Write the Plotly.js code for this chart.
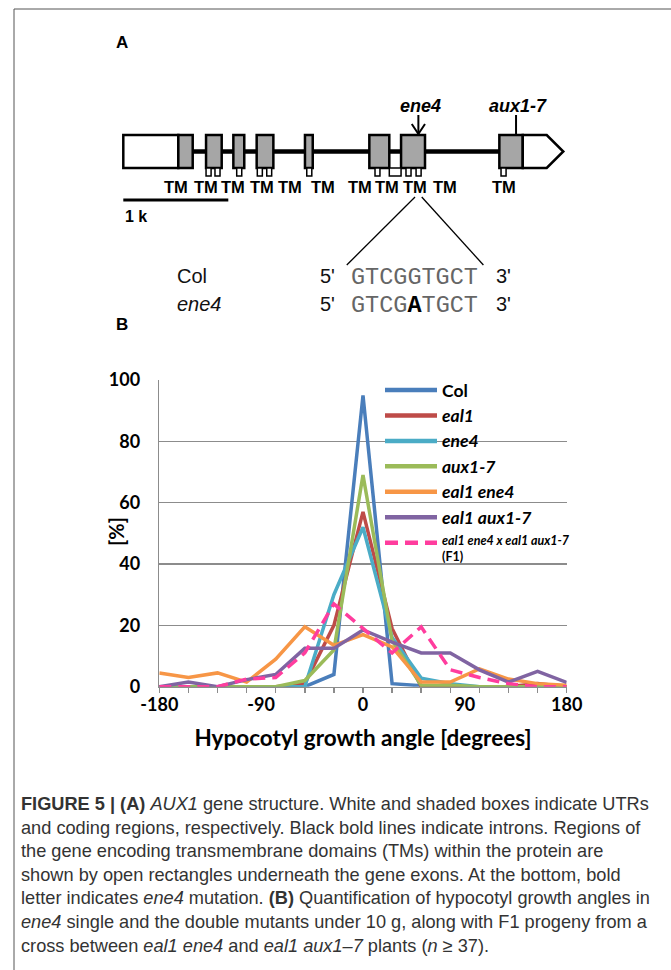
<!DOCTYPE html>
<html><head><meta charset="utf-8">
<script src="https://cdn.plot.ly/plotly-3.0.1.min.js"></script>
<style>html,body{margin:0;padding:0;background:#fff}#chart{width:671px;height:970px}</style>
</head><body><div id="chart"></div>
<script>
// ===== Panel B data: hypocotyl growth angle distribution (%) =====
const angleBins = [-180, -154.29, -128.57, -102.86, -77.14, -51.43, -25.71, 0, 25.71, 51.43, 77.14, 102.86, 128.57, 154.29, 180];
const xTickVals = [-180, -90, 0, 90, 180];
const xTickText = ['-180', '-90', '0', '90', '180'];
const colVals      = [0, 0, 0, 0, 0, 0, 4, 95, 1, 0.3, 0, 0, 0, 0, 0];
const eal1Vals     = [0, 0, 0, 0, 0, 1, 20, 57, 19, 0, 0, 0, 0, 1, 0];
const ene4Vals     = [0, 0, 0, 0, 0, 0, 30, 52, 16, 2.8, 1, 0, 0, 0, 0];
const aux17Vals    = [0, 0, 0, 0, 0, 2, 12, 69, 15, 0.5, 0.5, 0, 0, 0, 0];
const eal1ene4Vals = [4.5, 3, 4.5, 1.5, 9, 19.5, 13.5, 17, 13, 1.5, 1.5, 5.8, 2.5, 1, 0.5];
const eal1aux17Vals= [0, 1.5, 0, 2.3, 4, 12.5, 12.5, 18.5, 14.5, 11, 11, 5.5, 1.5, 5, 1.4];
const f1Vals       = [0, 0, 0, 2.5, 3, 11, 27, 19, 11, 19.5, 5.5, 3, 1, 0, 0];
const seriesVals   = [colVals, eal1Vals, ene4Vals, aux17Vals, eal1ene4Vals, eal1aux17Vals, f1Vals];
const seriesNames  = ['Col', 'eal1', 'ene4', 'aux1-7', 'eal1 ene4', 'eal1 aux1-7', 'eal1 ene4 x eal1 aux1-7 (F1)'];
const seriesLabels = ['<b>Col</b>', '<b><i>eal1</i></b>', '<b><i>ene4</i></b>', '<b><i>aux1-7</i></b>', '<b><i>eal1 ene4</i></b>', '<b><i>eal1 aux1-7</i></b>', '<b><i>eal1 ene4 x eal1 aux1-7</i></b><br><b>(F1)</b>'];
const seriesColors = ['#4a7ebb', '#be4b48', '#4bacc6', '#9bbb59', '#f79646', '#8064a2', '#ff3d9e'];

// ===== Panel A data: AUX1 gene structure (bp from transcription start) =====
const utr5 = [0, 524];
const exonStarts = [524, 788, 1048, 1270, 1730, 2343, 2645, 3581];
const exonEnds   = [661, 937, 1152, 1429, 1804, 2533, 2873, 3804];
const utr3 = [3804, 4032, 4190];
const tmStarts = [788, 873, 1080, 1276, 1366, 1747, 2397, 2533, 2692, 2788, 3597];
const tmEnds   = [836, 921, 1128, 1324, 1413, 1795, 2444, 2645, 2740, 2836, 3645];
const tmLabelPos = [502, 788, 1048, 1324, 1588, 1899, 2257, 2514, 2778, 3063, 3629];
const scaleBar = [0, 1000];
const ene4Site = 2810;
const aux17Site = 3740;
const colSeq = 'GTCGGTGCT';
const ene4Seq = 'GTCG<b><span style="fill:#000">A</span></b>TGCT';

const W = 671, H = 970;
const px = v => v / W;
const py = v => 1 - v / H;

// ---- traces ----
const traces = seriesVals.map((vals, i) => ({
  type: 'scatter', mode: 'lines', x: angleBins, y: vals, name: seriesNames[i],
  xaxis: 'x', yaxis: 'y', showlegend: false, hoverinfo: 'skip',
  line: {color: seriesColors[i], width: 3.5, dash: i === 6 ? '12px,7px' : 'solid'}
}));
traces.push({type: 'scatter', x: [], y: [], xaxis: 'x3', yaxis: 'y', showlegend: false, hoverinfo: 'skip'});
traces.push({type: 'scatter', x: [], y: [], xaxis: 'x2', yaxis: 'y2', showlegend: false, hoverinfo: 'skip'});

const shapes = [];
const annotations = [];

// ---- figure border ----
shapes.push({type: 'line', xref: 'paper', yref: 'paper', x0: px(14), x1: px(14), y0: py(9), y1: py(970), line: {color: '#555', width: 1}});
shapes.push({type: 'line', xref: 'paper', yref: 'paper', x0: px(14), x1: px(671), y0: py(9), y1: py(9), line: {color: '#555', width: 1}});

// ---- Panel A gene diagram ----
const G = {xref: 'x2', yref: 'y2'};
const yTop = 135, yBot = 168, yMid = 151.5;
shapes.push(Object.assign({type: 'line', x0: exonEnds[0], x1: exonStarts[exonStarts.length - 1], y0: yMid, y1: yMid, line: {color: '#000', width: 4.5}}, G));
shapes.push(Object.assign({type: 'rect', x0: utr5[0], x1: utr5[1], y0: yTop, y1: yBot, fillcolor: '#fff', line: {color: '#000', width: 2.5}}, G));
exonStarts.forEach((s, i) => {
  shapes.push(Object.assign({type: 'rect', x0: s, x1: exonEnds[i], y0: yTop, y1: yBot, fillcolor: '#a6a6a6', line: {color: '#000', width: 2.5}}, G));
});
shapes.push(Object.assign({type: 'path', path: `M ${utr3[0]},${yTop} L ${utr3[1]},${yTop} L ${utr3[2]},${yMid} L ${utr3[1]},${yBot} L ${utr3[0]},${yBot} Z`, fillcolor: '#fff', line: {color: '#000', width: 2.5}}, G));
tmStarts.forEach((s, i) => {
  shapes.push(Object.assign({type: 'rect', x0: s, x1: tmEnds[i], y0: yBot, y1: 176, fillcolor: '#fff', line: {color: '#000', width: 1.5}}, G));
});
tmLabelPos.forEach(p => {
  annotations.push(Object.assign({x: p, y: 187, text: '<b>TM</b>', showarrow: false, xanchor: 'center', yanchor: 'middle', font: {family: 'Liberation Sans, Arial', size: 16.5, color: '#000'}}, G));
});
// scale bar
shapes.push(Object.assign({type: 'line', x0: scaleBar[0], x1: scaleBar[1], y0: 200, y1: 200, line: {color: '#000', width: 3}}, G));
annotations.push({xref: 'paper', yref: 'paper', x: px(123), y: py(217), text: '<b>1 k</b>', showarrow: false, xanchor: 'left', yanchor: 'middle', font: {family: 'Liberation Sans, Arial', size: 16, color: '#000'}});
// mutation markers
shapes.push(Object.assign({type: 'line', x0: ene4Site, x1: ene4Site, y0: 115, y1: 134, line: {color: '#000', width: 2}}, G));
shapes.push(Object.assign({type: 'path', path: `M ${ene4Site - 63},124 L ${ene4Site},134 L ${ene4Site + 63},124`, line: {color: '#000', width: 2}}, G));
shapes.push(Object.assign({type: 'line', x0: aux17Site, x1: aux17Site, y0: 115, y1: 135, line: {color: '#000', width: 2}}, G));
annotations.push(Object.assign({x: ene4Site + 16, y: 106, text: '<b><i>ene4</i></b>', showarrow: false, xanchor: 'center', yanchor: 'middle', font: {family: 'Liberation Sans, Arial', size: 18, color: '#000'}}, G));
annotations.push(Object.assign({x: aux17Site + 19, y: 106, text: '<b><i>aux1-7</i></b>', showarrow: false, xanchor: 'center', yanchor: 'middle', font: {family: 'Liberation Sans, Arial', size: 18, color: '#000'}}, G));
// zoom lines to sequence
shapes.push(Object.assign({type: 'line', x0: 2778, x1: 2128, y0: 197, y1: 265, line: {color: '#000', width: 1.3}}, G));
shapes.push(Object.assign({type: 'line', x0: 2842, x1: 3429, y0: 197, y1: 265, line: {color: '#000', width: 1.3}}, G));
// sequences
const seqRows = [{name: 'Col', seq: colSeq, y: 276}, {name: '<i>ene4</i>', seq: ene4Seq, y: 304}];
seqRows.forEach(r => {
  annotations.push({xref: 'paper', yref: 'paper', x: px(175), y: py(r.y), text: r.name, showarrow: false, xanchor: 'left', yanchor: 'middle', font: {family: 'Liberation Sans, Arial', size: 20, color: '#111'}});
  annotations.push({xref: 'paper', yref: 'paper', x: px(318), y: py(r.y), text: "5'", showarrow: false, xanchor: 'left', yanchor: 'middle', font: {family: 'Liberation Sans, Arial', size: 20, color: '#111'}});
  annotations.push({xref: 'paper', yref: 'paper', x: px(349), y: py(r.y + 1), text: r.seq, showarrow: false, xanchor: 'left', yanchor: 'middle', font: {family: 'Liberation Mono, Courier New, monospace', size: 23.5, color: '#666'}});
  annotations.push({xref: 'paper', yref: 'paper', x: px(494), y: py(r.y), text: "3'", showarrow: false, xanchor: 'left', yanchor: 'middle', font: {family: 'Liberation Sans, Arial', size: 20, color: '#111'}});
});
// panel letters
annotations.push({xref: 'paper', yref: 'paper', x: px(122), y: py(43), text: '<b>A</b>', showarrow: false, xanchor: 'center', yanchor: 'middle', font: {family: 'Liberation Sans, Arial', size: 17, color: '#000'}});
annotations.push({xref: 'paper', yref: 'paper', x: px(122), y: py(325), text: '<b>B</b>', showarrow: false, xanchor: 'center', yanchor: 'middle', font: {family: 'Liberation Sans, Arial', size: 17, color: '#000'}});

// ---- Panel B: y title ----
annotations.push({xref: 'paper', yref: 'paper', x: px(116), y: py(532), text: '<b>[%]</b>', textangle: -90, showarrow: false, xanchor: 'center', yanchor: 'middle', font: {family: 'Lato, Open Sans, sans-serif', size: 20, color: '#000'}});

// ---- Panel B: custom legend ----
seriesLabels.forEach((lab, i) => {
  const yy = 390 + i * 25.45;
  shapes.push({type: 'line', xref: 'paper', yref: 'paper', x0: px(385), x1: px(437), y0: py(yy), y1: py(yy), line: {color: seriesColors[i], width: 4.5, dash: i === 6 ? '13px,7px' : 'solid'}});
  if (i < 6) {
    annotations.push({xref: 'paper', yref: 'paper', x: px(440), y: py(yy), text: lab, showarrow: false, xanchor: 'left', yanchor: 'middle', font: {family: 'Lato, Open Sans, sans-serif', size: 17.5, color: '#000'}});
  } else {
    annotations.push({xref: 'paper', yref: 'paper', x: px(440), y: py(yy + 6), text: lab, showarrow: false, xanchor: 'left', yanchor: 'middle', align: 'left', font: {family: 'Lato, Open Sans, sans-serif', size: 12.5, color: '#000'}});
  }
});

// ---- caption ----
const captionLines = [
  '<b>FIGURE 5 | (A)</b> <i>AUX1</i> gene structure. White and shaded boxes indicate UTRs',
  'and coding regions, respectively. Black bold lines indicate introns. Regions of',
  'the gene encoding transmembrane domains (TMs) within the protein are',
  'shown by open rectangles underneath the gene exons. At the bottom, bold',
  'letter indicates <i>ene4</i> mutation. <b>(B)</b> Quantification of hypocotyl growth angles in',
  '<i>ene4</i> single and the double mutants under 10 g, along with F1 progeny from a',
  'cross between <i>eal1 ene4</i> and <i>eal1 aux1–7</i> plants (<i>n</i> ≥ 37).'
];
captionLines.forEach((t, i) => {
  annotations.push({xref: 'paper', yref: 'paper', x: px(19), y: py(804 + i * 23.6), text: t, showarrow: false, xanchor: 'left', yanchor: 'middle', font: {family: 'Liberation Sans, Arial', size: 18.2, color: '#333'}});
});

const layout = {
  width: W, height: H, margin: {l: 0, r: 0, t: 0, b: 0},
  paper_bgcolor: '#fff', plot_bgcolor: 'rgba(0,0,0,0)', showlegend: false,
  xaxis: {
    domain: [px(159.3), px(566.7)], range: [-180, 180], anchor: 'y',
    tickmode: 'array', tickvals: xTickVals, ticktext: xTickText, ticks: '',
    ticklabelstandoff: 1,
    showline: true, linecolor: '#8c8c8c', linewidth: 1.5, showgrid: false, zeroline: false,
    tickfont: {family: 'Lato, Open Sans, sans-serif', size: 18, color: '#000', weight: 'bold'},
    title: {text: '<b>Hypocotyl growth angle [degrees]</b>', font: {family: 'Lato, Open Sans, sans-serif', size: 22.5, color: '#000'}, standoff: 16},
    fixedrange: true
  },
  xaxis3: {
    overlaying: 'x', anchor: 'y', range: [-180, 180], tickmode: 'array', tickvals: angleBins,
    ticks: 'outside', ticklen: 5, tickwidth: 1.5, tickcolor: '#8c8c8c', showticklabels: false,
    showline: false, showgrid: false, zeroline: false, fixedrange: true
  },
  yaxis: {
    domain: [py(686.7), py(380)], range: [0, 100], anchor: 'x',
    tickmode: 'array', tickvals: [0, 20, 40, 60, 80, 100], ticks: '', ticklabelstandoff: 14,
    showline: true, linecolor: '#8c8c8c', linewidth: 1.5, showgrid: true, gridcolor: '#8c8c8c', gridwidth: 1.3, zeroline: false,
    tickfont: {family: 'Lato, Open Sans, sans-serif', size: 18, color: '#000', weight: 'bold'},
    fixedrange: true
  },
  xaxis2: {domain: [px(118.05), px(568.55)], range: [-50, 4240], anchor: 'y2', visible: false, fixedrange: true},
  yaxis2: {domain: [0, 1], range: [H, 0], anchor: 'x2', visible: false, fixedrange: true},
  shapes: shapes,
  annotations: annotations
};

Plotly.newPlot('chart', traces, layout, {staticPlot: true, displayModeBar: false});
</script>
</body></html>
